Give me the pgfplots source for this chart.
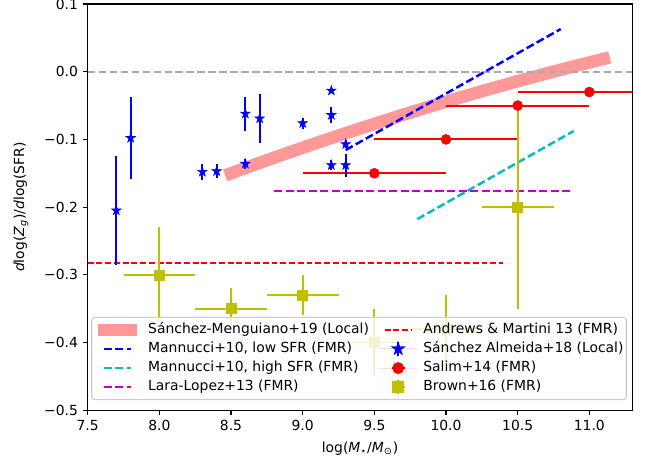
\documentclass[border=0pt]{standalone}
\usepackage{fontspec}
\setmainfont{DejaVu Sans}
\usepackage{pgfplots}
\pgfplotsset{compat=1.18}

\definecolor{smpink}{RGB}{255,153,153}
\definecolor{mplgray}{RGB}{170,170,170}
\definecolor{mplblue}{RGB}{0,0,255}
\definecolor{mplcyan}{RGB}{0,191,191}
\definecolor{mplmag}{RGB}{191,0,191}
\definecolor{mplred}{RGB}{255,0,0}
\definecolor{mplyel}{RGB}{191,191,0}
\definecolor{legframe}{RGB}{204,204,204}

% filled five-pointed star, like matplotlib's '*'
\pgfdeclareplotmark{fstar}{%
  \pgfpathmoveto{\pgfpointpolar{90}{\pgfplotmarksize}}%
  \pgfpathlineto{\pgfpointpolar{126}{0.382\pgfplotmarksize}}%
  \pgfpathlineto{\pgfpointpolar{162}{\pgfplotmarksize}}%
  \pgfpathlineto{\pgfpointpolar{198}{0.382\pgfplotmarksize}}%
  \pgfpathlineto{\pgfpointpolar{234}{\pgfplotmarksize}}%
  \pgfpathlineto{\pgfpointpolar{270}{0.382\pgfplotmarksize}}%
  \pgfpathlineto{\pgfpointpolar{306}{\pgfplotmarksize}}%
  \pgfpathlineto{\pgfpointpolar{342}{0.382\pgfplotmarksize}}%
  \pgfpathlineto{\pgfpointpolar{18}{\pgfplotmarksize}}%
  \pgfpathlineto{\pgfpointpolar{54}{0.382\pgfplotmarksize}}%
  \pgfpathclose
  \pgfusepathqfillstroke}

% Sanchez Almeida+18: x y ey
\pgfplotstableread{
x     y       ey
7.70  -0.205  0.080
7.80  -0.098  0.060
8.30  -0.148  0.012
8.40  -0.147  0.010
8.60  -0.062  0.025
8.60  -0.136  0.007
8.70  -0.069  0.036
9.00  -0.076  0.008
9.20  -0.028  0.000
9.20  -0.064  0.012
9.20  -0.138  0.007
9.30  -0.107  0.006
9.30  -0.138  0.017
}\almeida

% Salim+14: points
\pgfplotstableread{
x     y
9.5   -0.15
10.0  -0.10
10.5  -0.05
11.0  -0.03
}\salim

% Brown+16: x y ex ey
\pgfplotstableread{
x     y      ex    ey
8.0   -0.30  0.25  0.07
8.5   -0.35  0.25  0.03
9.0   -0.33  0.25  0.03
9.5   -0.40  0.25  0.05
10.0  -0.38  0.25  0.05
10.5  -0.20  0.25  0.15
}\brown

\begin{document}
\begin{tikzpicture}
\begin{axis}[
  name=ax,
  scale only axis,
  width=392pt, height=292.3pt,
  xmin=7.5, xmax=11.3, ymin=-0.5, ymax=0.1,
  axis line style={black, line width=0.8pt},
  tick pos=left, tick align=outside,
  major tick length=3.5pt,
  every tick/.style={black, line width=0.8pt},
  xtick={7.5,8.0,8.5,9.0,9.5,10.0,10.5,11.0},
  xticklabels={7.5,8.0,8.5,9.0,9.5,10.0,10.5,11.0},
  ytick={-0.5,-0.4,-0.3,-0.2,-0.1,0.0,0.1},
  yticklabels={−0.5,−0.4,−0.3,−0.2,−0.1,0.0,0.1},
  xlabel={log(\textit{M}\textsubscript{⋆}/\textit{M}\textsubscript{⊙})},
  ylabel={\textit{d}log(\textit{Z}\textsubscript{\textit{g}})/\textit{d}log(SFR)},
  xlabel style={at={(axis description cs:0.5,-0.0937)}, anchor=center},
  ylabel style={at={(axis description cs:-0.1224,0.5)}, anchor=center},
  legend columns=2,
  legend cell align=left,
  legend style={
    at={(1,0)}, anchor=south east, xshift=-4pt, yshift=7.2pt,
    draw=legframe, line width=0.8pt, rounded corners=2pt,
    fill=white, fill opacity=0.8, text opacity=1,
    inner xsep=0pt, inner ysep=2pt,
    nodes={inner sep=2pt, text height=7.4pt, text depth=2.4pt},
    /tikz/every odd column/.append style={column sep=2.1pt},
    /tikz/every even column/.append style={column sep=5.1pt},
  },
]

% Sanchez-Menguiano+19 band
\addplot[smpink, line width=9pt, line cap=rect, forget plot] coordinates {
(8.5,-0.150)(8.7,-0.1346)(8.9,-0.1196)(9.1,-0.105)(9.3,-0.0908)(9.5,-0.077)
(9.7,-0.0636)(9.9,-0.0506)(10.1,-0.038)(10.3,-0.0258)(10.5,-0.014)
(10.7,-0.0026)(10.9,0.0084)(11.1,0.019)
};

% zero line
\addplot[color=mplgray, line width=1.5pt, dash pattern=on 5.5pt off 2.4pt, forget plot]
  coordinates {(7.5,0)(11.3,0)};

% Mannucci+10 low / high SFR, Lara-Lopez+13, Andrews & Martini 13
\addplot[color=mplblue, line width=1.8pt, dash pattern=on 5.8pt off 2.5pt, forget plot]
  coordinates {(9.3,-0.1157)(10.8,0.063)};
\addplot[color=mplcyan, line width=1.8pt, dash pattern=on 5.8pt off 2.5pt, forget plot]
  coordinates {(9.8,-0.2177)(10.89,-0.0877)};
\addplot[color=mplmag, line width=1.8pt, dash pattern=on 5.8pt off 2.5pt, forget plot]
  coordinates {(8.8,-0.176)(10.89,-0.176)};
\addplot[color=mplred, line width=1.2pt, dash pattern=on 4.2pt off 2.1pt, forget plot]
  coordinates {(7.5,-0.283)(10.4,-0.283)};

% Salim+14 mass ranges (x +- 0.5)
\addplot[draw=mplred, line width=1.4pt, forget plot] coordinates {(9.0,-0.15)(10.0,-0.15)};
\addplot[draw=mplred, line width=1.4pt, forget plot] coordinates {(9.5,-0.10)(10.5,-0.10)};
\addplot[draw=mplred, line width=1.4pt, forget plot] coordinates {(10.0,-0.05)(11.0,-0.05)};
\addplot[draw=mplred, line width=1.4pt, forget plot] coordinates {(10.5,-0.03)(11.5,-0.03)};

% Sanchez Almeida+18
\addplot[only marks, color=mplblue, mark=fstar, mark size=3.6pt,
  mark options={fill=mplblue}, forget plot,
  error bars/.cd, y dir=both, y explicit, error mark=none,
  error bar style={color=mplblue, line width=1.3pt}]
  table[x=x, y=y, y error=ey] {\almeida};

% Brown+16
\addplot[only marks, color=mplyel, mark=square*, mark size=3.6pt,
  mark options={fill=mplyel}, forget plot,
  error bars/.cd, x dir=both, x explicit, y dir=both, y explicit, error mark=none,
  error bar style={color=mplyel, line width=1.3pt}]
  table[x=x, y=y, x error=ex, y error=ey] {\brown};

% Salim+14 points
\addplot[only marks, color=mplred, mark=*, mark size=3.6pt,
  mark options={fill=mplred}, forget plot] table[x=x, y=y] {\salim};

% legend, row by row
\addlegendimage{color=smpink, line width=8.5pt,
  legend image code/.code={\draw (-4.25pt,0pt) -- (23.75pt,0pt);}}
\addlegendentry{Sánchez-Menguiano+19 (Local)}
\addlegendimage{color=mplred, line width=1.2pt, dash pattern=on 4.2pt off 2.1pt,
  legend image code/.code={\draw[draw=none] (-4.25pt,0pt) -- (23.75pt,0pt);
    \draw (0pt,0pt) -- (19.5pt,0pt);}}
\addlegendentry{Andrews \& Martini 13 (FMR)}
\addlegendimage{color=mplblue, line width=1.8pt, dash pattern=on 5.8pt off 2.5pt,
  legend image code/.code={\draw (0pt,0pt) -- (19.5pt,0pt);}}
\addlegendentry{Mannucci+10, low SFR (FMR)}
\addlegendimage{color=mplblue, line width=1.3pt, fill=mplblue, fill opacity=1,
  legend image code/.code={
    \draw[draw=none] (-4.25pt,0pt) -- (23.75pt,0pt);
    \draw (9.75pt,-5pt) -- (9.75pt,5pt);
    \draw[mark=fstar, mark size=3.6pt] plot coordinates {(9.75pt,0pt)};}}
\addlegendentry{Sánchez Almeida+18 (Local)}
\addlegendimage{color=mplcyan, line width=1.8pt, dash pattern=on 5.8pt off 2.5pt,
  legend image code/.code={\draw (0pt,0pt) -- (19.5pt,0pt);}}
\addlegendentry{Mannucci+10, high SFR (FMR)}
\addlegendimage{color=mplred, line width=1.3pt, fill=mplred, fill opacity=1,
  legend image code/.code={
    \draw[draw=none] (-4.25pt,0pt) -- (23.75pt,0pt);
    \draw (5pt,0pt) -- (14.5pt,0pt);
    \draw[mark=*, mark size=3.6pt] plot coordinates {(9.75pt,0pt)};}}
\addlegendentry{Salim+14 (FMR)}
\addlegendimage{color=mplmag, line width=1.8pt, dash pattern=on 5.8pt off 2.5pt,
  legend image code/.code={\draw (0pt,0pt) -- (19.5pt,0pt);}}
\addlegendentry{Lara-Lopez+13 (FMR)}
\addlegendimage{color=mplyel, line width=1.3pt, fill=mplyel, fill opacity=1,
  legend image code/.code={
    \draw[draw=none] (-4.25pt,0pt) -- (23.75pt,0pt);
    \draw (5pt,0pt) -- (14.5pt,0pt);
    \draw (9.75pt,-5pt) -- (9.75pt,5pt);
    \draw[mark=square*, mark size=3.6pt] plot coordinates {(9.75pt,0pt)};}}
\addlegendentry{Brown+16 (FMR)}

\end{axis}
\pgfresetboundingbox
\path ([xshift=-63.1pt,yshift=-34.6pt]ax.south west) rectangle ([xshift=9.1pt,yshift=2.9pt]ax.north east);
\end{tikzpicture}
\end{document}
